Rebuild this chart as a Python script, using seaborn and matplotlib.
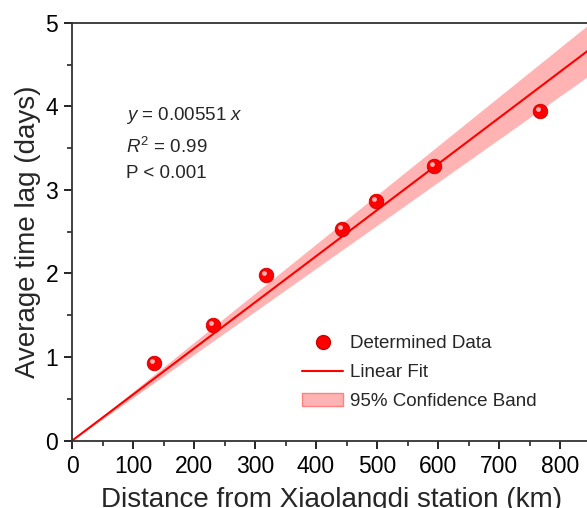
import numpy as np
import pandas as pd
import seaborn as sns
import matplotlib.pyplot as plt
from matplotlib.lines import Line2D
from matplotlib.patches import Patch
from matplotlib.transforms import ScaledTranslation

# values
distance_km = [134, 231, 318, 442, 499, 594, 767]
time_lag_days = [0.93, 1.38, 1.98, 2.53, 2.87, 3.28, 3.94]
x_ticks = [0, 100, 200, 300, 400, 500, 600, 700, 800]
y_ticks = [0, 1, 2, 3, 4, 5]

sns.set_theme(style="ticks")
plt.rcParams['font.family'] = ['Liberation Sans', 'DejaVu Sans']
plt.rcParams['mathtext.fontset'] = 'custom'
plt.rcParams['mathtext.rm'] = 'Liberation Sans'
plt.rcParams['mathtext.it'] = 'Liberation Sans:italic'

df = pd.DataFrame({'distance': distance_km, 'lag': time_lag_days})

# linear fit through the origin and its 95% confidence band
x = df['distance'].to_numpy(float)
y = df['lag'].to_numpy(float)
slope = (x * y).sum() / (x * x).sum()
resid = y - slope * x
s = np.sqrt((resid ** 2).sum() / (len(x) - 1))
se = s / np.sqrt((x * x).sum())
t975 = 2.447  # t(0.975, df=6)
fit = pd.DataFrame({'distance': np.linspace(0, 850, 200)})
fit['lag'] = slope * fit['distance']
fit['lo'] = (slope - t975 * se) * fit['distance']
fit['hi'] = (slope + t975 * se) * fit['distance']

fig = plt.figure(figsize=(5.87, 5.08), dpi=100)
ax = fig.add_axes([0.1227, 0.1325, 518.5 / 587, 0.8228])

ax.fill_between(fit['distance'], fit['lo'], fit['hi'], color='#ffb3b3', lw=0, zorder=1)
sns.lineplot(data=fit, x='distance', y='lag', color='red', lw=1.5, ax=ax, zorder=2)
sns.scatterplot(data=df, x='distance', y='lag', color='red', s=110,
                edgecolor='#d00000', linewidth=0.6, ax=ax, zorder=3)
# small highlight on the balls
hl = ax.transData + ScaledTranslation(-1.5 / 72, 1.5 / 72, fig.dpi_scale_trans)
ax.scatter(df['distance'], df['lag'], s=12, color='#ffb0b0', lw=0, transform=hl, zorder=4)

ax.set_xlim(0, 850)
ax.set_ylim(0, 5)
ax.set_xticks(x_ticks)
ax.set_yticks(y_ticks)
ax.set_xticks(np.arange(50, 850, 100), minor=True)
ax.set_yticks(np.arange(0.5, 5, 1), minor=True)
ax.tick_params(which='major', direction='out', length=6, width=1.2, labelsize=16.5,
               colors='black', pad=4)
ax.tick_params(which='minor', direction='out', length=3.5, width=1.2)
for sp in ax.spines.values():
    sp.set_linewidth(1.3)
    sp.set_color('#333333')

ax.set_xlabel('Distance from Xiaolangdi station (km)', fontsize=20, labelpad=7)
ax.set_ylabel('Average time lag (days)', fontsize=20, labelpad=3)

ax.text(0.105, 0.778, '$y$ = 0.00551 $x$', transform=ax.transAxes, fontsize=13.5, va='center')
ax.text(0.105, 0.703, '$R^2$ = 0.99', transform=ax.transAxes, fontsize=13.5, va='center')
ax.text(0.105, 0.640, 'P < 0.001', transform=ax.transAxes, fontsize=13.5, va='center')

handles = [
    Line2D([], [], marker='o', color='red', ls='none', markersize=10,
           markeredgecolor='#d00000'),
    Line2D([], [], color='red', lw=1.5),
    Patch(facecolor='#ffb3b3', edgecolor='#ff8080'),
]
labels = ['Determined Data', 'Linear Fit', '95% Confidence Band']
ax.legend(handles, labels, loc='upper left', bbox_to_anchor=(0.444, 0.252),
          frameon=False, fontsize=13.5, borderaxespad=0, borderpad=0,
          handlelength=2.2, handletextpad=0.35, labelspacing=0.62)

fig.savefig('out.png', dpi=100)
